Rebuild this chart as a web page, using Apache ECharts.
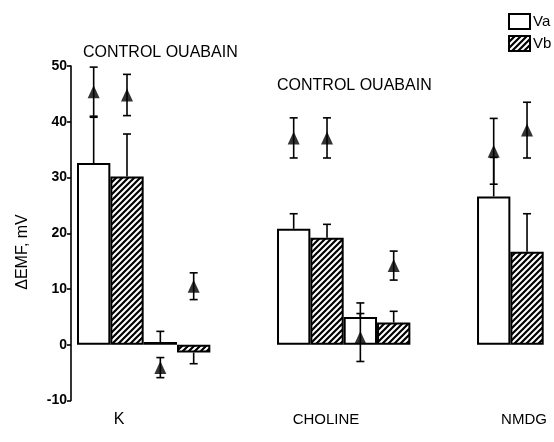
<!DOCTYPE html>
<html>
<head>
<meta charset="utf-8">
<script src="https://cdn.jsdelivr.net/npm/echarts@6/dist/echarts.min.js"></script>
<style>
html,body{margin:0;padding:0;background:#fff;}
#chart{width:554px;height:442px;}
</style>
</head>
<body>
<div id="chart"></div>
<script>
// ---- data ----
const barCategories = ['K control Va','K control Vb','K ouabain Va','K ouabain Vb','gap1','gap2',
  'Choline control Va','Choline control Vb','Choline ouabain Va','Choline ouabain Vb','gap3','gap4',
  'NMDG Va','NMDG Vb'];
const barVa  = [32.6, null, 0.5, null, null, null, 20.8, null, 5.0, null, null, null, 26.6, null];
const barVb  = [null, 30.2, null, -1.4, null, null, null, 19.2, null, 4.0, null, null, null, 16.7];
const barErr = [8.2, 7.6, 1.9, 2.0, null, null, 2.7, 2.4, 2.5, 2.0, null, null, 7.0, 6.8];
const triVal = [45.4, 44.8, -4.1, 10.5, null, null, 37.1, 37.1, 1.3, 14.2, null, null, 34.7, 38.5];
const triErr = [4.4, 3.7, 1.8, 2.4, null, null, 3.6, 3.6, 4.3, 2.6, null, null, 5.9, 5.0];
const yTicks = [-10, 0, 10, 20, 30, 40, 50];
const groupLabels = ['K', 'CHOLINE', 'NMDG'];
const conditionLabel = 'CONTROL OUABAIN';
const legendNames = ['Va', 'Vb'];
const yAxisTitle = 'ΔEMF, mV';

// ---- hatch pattern ----
function hatch() {
  const c = document.createElement('canvas');
  const s = 6; c.width = s; c.height = s;
  const g = c.getContext('2d');
  g.fillStyle = '#fff'; g.fillRect(0, 0, s, s);
  g.strokeStyle = '#000'; g.lineWidth = 2.2;
  g.beginPath();
  g.moveTo(-1, s + 1); g.lineTo(s + 1, -1);
  g.moveTo(-1, 1); g.lineTo(1, -1);
  g.moveTo(s - 1, s + 1); g.lineTo(s + 1, s - 1);
  g.stroke();
  return c;
}

const barErrData = [];
barErr.forEach((e, i) => {
  if (e == null) return;
  const v = barVa[i] != null ? barVa[i] : barVb[i];
  const end = v >= 0 ? v + e : v - e;
  barErrData.push([i, v, end, 0]);
});
const triErrData = [];
triErr.forEach((e, i) => {
  if (e == null) return;
  triErrData.push([i, triVal[i] - e, triVal[i] + e, 1]);
});
const triData = [];
triVal.forEach((v, i) => { if (v != null) triData.push([i, v]); });

function renderErr(params, api) {
  const x = api.value(0);
  const a = api.coord([x, api.value(1)]);
  const b = api.coord([x, api.value(2)]);
  const both = api.value(3) === 1;
  const cw = 4;
  const st = { stroke: '#000', lineWidth: 1.6 };
  const children = [
    { type: 'line', shape: { x1: a[0], y1: a[1], x2: b[0], y2: b[1] }, style: st },
    { type: 'line', shape: { x1: b[0] - cw, y1: b[1], x2: b[0] + cw, y2: b[1] }, style: st }
  ];
  if (both) children.push({ type: 'line', shape: { x1: a[0] - cw, y1: a[1], x2: a[0] + cw, y2: a[1] }, style: st });
  return { type: 'group', children: children };
}

const font = "'Liberation Sans', Arial, sans-serif";
const chart = echarts.init(document.getElementById('chart'), null, { renderer: 'canvas' });
chart.setOption({
  backgroundColor: '#fff',
  animation: false,
  grid: { left: 77, right: 10.3, top: 66, bottom: 41.5 },
  legend: {
    data: legendNames, orient: 'vertical', left: 503, top: 8,
    itemWidth: 21, itemHeight: 15, itemGap: 5, icon: 'rect',
    textStyle: { fontFamily: font, fontSize: 15, color: '#000', padding: [0, 0, 0, -2] }
  },
  xAxis: {
    type: 'category', data: barCategories,
    axisLine: { show: false }, axisTick: { show: false }, axisLabel: { show: false },
    splitLine: { show: false }
  },
  yAxis: {
    type: 'value', min: -10, max: 50, interval: 10, offset: 6,
    axisLine: { show: true, lineStyle: { color: '#000', width: 1.6 } },
    axisTick: { show: true, length: 4, lineStyle: { color: '#000', width: 1.6 } },
    axisLabel: { color: '#000', fontFamily: font, fontWeight: 'bold', fontSize: 14, margin: 4,
      formatter: v => yTicks.indexOf(v) >= 0 ? String(v) : '' },
    splitLine: { show: false }
  },
  graphic: [
    { type: 'text', left: 83, top: 45, style: { text: conditionLabel, font: '16px ' + font, fill: '#000' } },
    { type: 'text', left: 277, top: 78, style: { text: conditionLabel, font: '16px ' + font, fill: '#000' } },
    { type: 'text', x: 119, y: 420, style: { text: groupLabels[0], font: '16px ' + font, fill: '#000', textAlign: 'center', textVerticalAlign: 'middle' } },
    { type: 'text', x: 326, y: 420, style: { text: groupLabels[1], font: '15px ' + font, fill: '#000', textAlign: 'center', textVerticalAlign: 'middle' } },
    { type: 'text', x: 524, y: 420, style: { text: groupLabels[2], font: '15px ' + font, fill: '#000', textAlign: 'center', textVerticalAlign: 'middle' } },
    { type: 'text', x: 23, y: 252, rotation: Math.PI / 2, style: { text: yAxisTitle, font: '16px ' + font, fill: '#000', textAlign: 'center', textVerticalAlign: 'middle' } }
  ],
  series: [
    { name: 'Va', type: 'bar', data: barVa, barWidth: '100%', barGap: '-100%',
      itemStyle: { color: '#fff', borderColor: '#000', borderWidth: 2 } },
    { name: 'Vb', type: 'bar', data: barVb, barWidth: '100%', barGap: '-100%',
      itemStyle: { color: { image: hatch(), repeat: 'repeat' }, borderColor: '#000', borderWidth: 2 } },
    { type: 'custom', data: barErrData, renderItem: renderErr, z: 5 },
    { type: 'custom', data: triErrData, renderItem: renderErr, z: 5 },
    { type: 'scatter', data: triData, symbol: 'triangle', symbolSize: [12, 13],
      itemStyle: { color: '#000' }, z: 6 }
  ]
});
</script>
</body>
</html>
